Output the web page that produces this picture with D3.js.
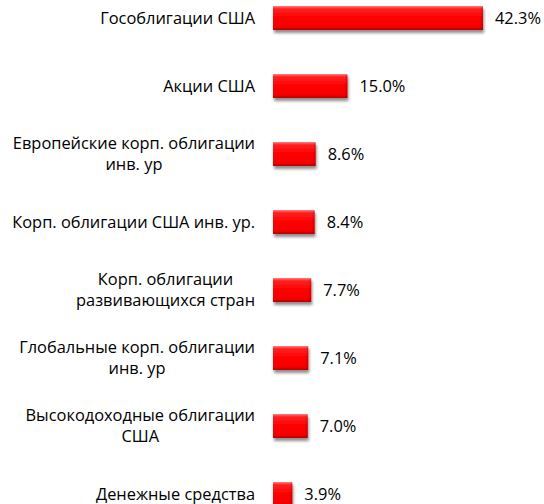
<!DOCTYPE html>
<html><head><meta charset="utf-8">
<script src="https://cdn.jsdelivr.net/npm/d3@7"></script>
<style>
html,body{margin:0;padding:0;background:#fff;}
svg{display:block;}
text{font-family:"Open Sans","Noto Sans",sans-serif;fill:#000;}
</style></head>
<body>
<svg id="chart" width="544" height="504"></svg>
<script>
const categories = [
  ["Гособлигации США"],
  ["Акции США"],
  ["Европейские корп. облигации", "инв. ур"],
  ["Корп. облигации США инв. ур."],
  ["Корп. облигации", "развивающихся стран"],
  ["Глобальные корп. облигации", "инв. ур"],
  ["Высокодоходные облигации", "США"],
  ["Денежные средства"]
];
const values = [42.3, 15.0, 8.6, 8.4, 7.7, 7.1, 7.0, 3.9];
const valueLabels = ["42.3%", "15.0%", "8.6%", "8.4%", "7.7%", "7.1%", "7.0%", "3.9%"];

const svg = d3.select("#chart");
const fontSize = 16.4;
const x0 = 273;
const x = d3.scaleLinear().domain([0, 42.3]).range([x0, 483]);
const idx = d3.range(categories.length);
const y = d3.scaleBand().domain(idx).range([-16, -16 + 68 * 8]).paddingInner(0.647).paddingOuter(0.3235);

const defs = svg.append("defs");
const g = defs.append("linearGradient").attr("id", "barGrad").attr("x1", 0).attr("y1", 0).attr("x2", 0).attr("y2", 1);
g.append("stop").attr("offset", "0%").attr("stop-color", "#ff8080");
g.append("stop").attr("offset", "12%").attr("stop-color", "#ff2020");
g.append("stop").attr("offset", "50%").attr("stop-color", "#ff0000");
g.append("stop").attr("offset", "88%").attr("stop-color", "#f20000");
g.append("stop").attr("offset", "100%").attr("stop-color", "#b00000");
const gs = defs.append("linearGradient").attr("id", "sideGrad").attr("x1", 0).attr("y1", 0).attr("x2", 1).attr("y2", 0);
gs.append("stop").attr("offset", "0%").attr("stop-color", "#000").attr("stop-opacity", 0);
gs.append("stop").attr("offset", "100%").attr("stop-color", "#000").attr("stop-opacity", 0.18);
const f = defs.append("filter").attr("id", "shadow").attr("x", "-10%").attr("y", "-30%").attr("width", "130%").attr("height", "180%");
f.append("feGaussianBlur").attr("in", "SourceAlpha").attr("stdDeviation", 1.6).attr("result", "b");
f.append("feOffset").attr("in", "b").attr("dx", 0.5).attr("dy", 2.5).attr("result", "o");
f.append("feComponentTransfer").attr("in", "o").attr("result", "o2")
  .append("feFuncA").attr("type", "linear").attr("slope", 0.45);
const m = f.append("feMerge");
m.append("feMergeNode").attr("in", "o2");
m.append("feMergeNode").attr("in", "SourceGraphic");

const bars = svg.append("g");
bars.selectAll("rect.bar").data(idx).join("rect")
  .attr("class", "bar")
  .attr("x", x0)
  .attr("y", i => y(i))
  .attr("width", i => x(values[i]) - x0)
  .attr("height", y.bandwidth())
  .attr("fill", "url(#barGrad)")
  .attr("filter", "url(#shadow)");
bars.selectAll("rect.side").data(idx).join("rect")
  .attr("class", "side")
  .attr("x", i => x(values[i]) - 3)
  .attr("y", i => y(i) + 1)
  .attr("width", 3)
  .attr("height", y.bandwidth() - 2)
  .attr("fill", "url(#sideGrad)");

svg.append("g").selectAll("text").data(idx).join("text")
  .attr("x", i => x(values[i]) + 12)
  .attr("y", i => y(i) + y.bandwidth() / 2)
  .attr("dy", "0.35em")
  .style("font-size", fontSize + "px")
  .text(i => valueLabels[i]);

const rightEdge = 255;
const lineH = 21;
const lg = svg.append("g");
idx.forEach(i => {
  const lines = categories[i];
  const cy = y(i) + y.bandwidth() / 2;
  const grp = lg.append("g");
  const ts = lines.map((t, k) => grp.append("text")
    .attr("y", cy + (k - (lines.length - 1) / 2) * lineH)
    .attr("dy", "0.35em")
    .attr("text-anchor", "middle")
    .style("font-size", fontSize + "px")
    .text(t));
  const w = d3.max(ts, t => t.node().getComputedTextLength());
  ts.forEach(t => t.attr("x", rightEdge - w / 2));
});
</script>
</body></html>
